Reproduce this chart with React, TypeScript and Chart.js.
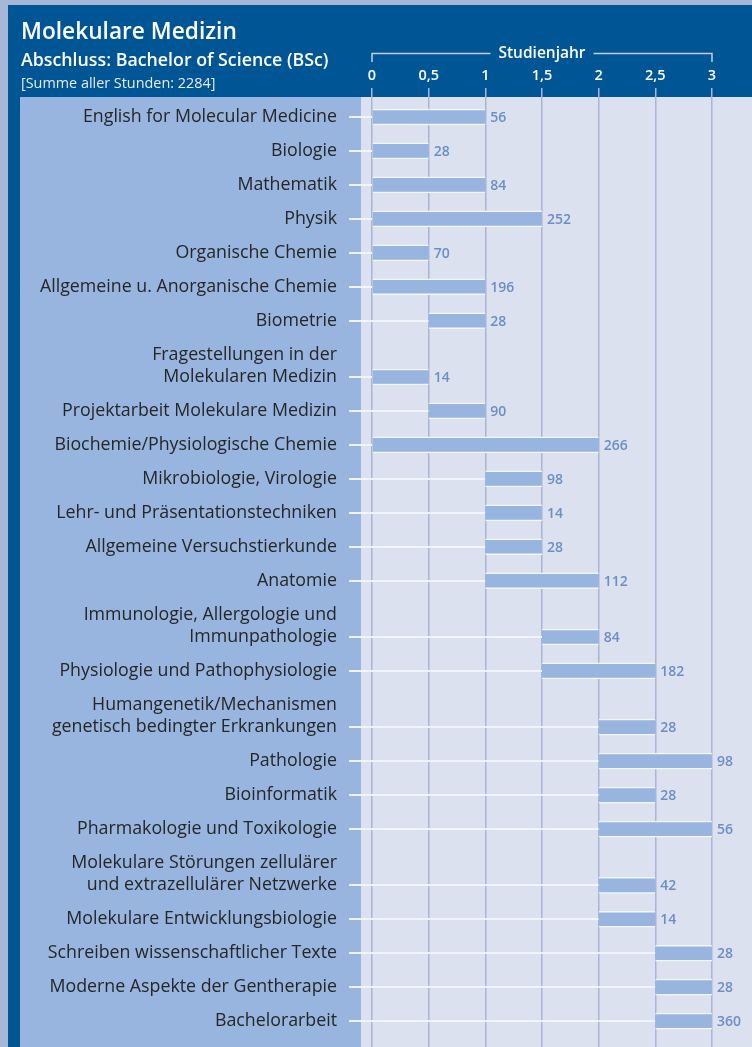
import React, { useEffect, useRef } from 'react';
import { Chart, registerables } from 'chart.js';

Chart.register(...registerables);

const title = 'Molekulare Medizin';
const subtitle = 'Abschluss: Bachelor of Science (BSc)';
const note = '[Summe aller Stunden: 2284]';
const axisTitle = 'Studienjahr';

const categories: string[][] = [
  ['English for Molecular Medicine'],
  ['Biologie'],
  ['Mathematik'],
  ['Physik'],
  ['Organische Chemie'],
  ['Allgemeine u. Anorganische Chemie'],
  ['Biometrie'],
  ['Fragestellungen in der', 'Molekularen Medizin'],
  ['Projektarbeit Molekulare Medizin'],
  ['Biochemie/Physiologische Chemie'],
  ['Mikrobiologie, Virologie'],
  ['Lehr- und Präsentationstechniken'],
  ['Allgemeine Versuchstierkunde'],
  ['Anatomie'],
  ['Immunologie, Allergologie und', 'Immunpathologie'],
  ['Physiologie und Pathophysiologie'],
  ['Humangenetik/Mechanismen', 'genetisch bedingter Erkrankungen'],
  ['Pathologie'],
  ['Bioinformatik'],
  ['Pharmakologie und Toxikologie'],
  ['Molekulare Störungen zellulärer', 'und extrazellulärer Netzwerke'],
  ['Molekulare Entwicklungsbiologie'],
  ['Schreiben wissenschaftlicher Texte'],
  ['Moderne Aspekte der Gentherapie'],
  ['Bachelorarbeit'],
];

const startYear: number[] = [0, 0, 0, 0, 0, 0, 0.5, 0, 0.5, 0, 1, 1, 1, 1, 1.5, 1.5, 2, 2, 2, 2, 2, 2, 2.5, 2.5, 2.5];
const endYear: number[] = [1, 0.5, 1, 1.5, 0.5, 1, 1, 0.5, 1, 2, 1.5, 1.5, 1.5, 2, 2, 2.5, 2.5, 3, 2.5, 3, 2.5, 2.5, 3, 3, 3];
const hours: number[] = [56, 28, 84, 252, 70, 196, 28, 14, 90, 266, 98, 14, 28, 112, 84, 182, 28, 98, 28, 56, 42, 14, 28, 28, 360];
const xTicks: number[] = [0, 0.5, 1, 1.5, 2, 2.5, 3];

const EXTRA_LINE = 0.657;

const FONT = '"Open Sans", "Noto Sans", sans-serif';

export default function App() {
  const ref = useRef<HTMLCanvasElement | null>(null);

  useEffect(() => {
    if (!ref.current) return;
    let acc = 0;
    const rowPos = categories.map((lines, i) => {
      acc += (lines.length - 1) * EXTRA_LINE;
      return i + acc;
    });

    const decor = {
      id: 'decor',
      beforeDraw(chart: any) {
        const ctx = chart.ctx;
        const area = chart.chartArea;
        const W = chart.width;
        const H = chart.height;
        ctx.save();
        ctx.fillStyle = '#a7b7d7';
        ctx.fillRect(0, 0, W, H);
        ctx.fillStyle = '#005594';
        ctx.fillRect(8, 5, W - 8, H - 5);
        ctx.fillStyle = '#97b5df';
        ctx.fillRect(20, area.top, area.left - 20, H - area.top);
        ctx.fillStyle = '#dbe1ee';
        ctx.fillRect(area.left, area.top, area.right - area.left, H - area.top);

        ctx.fillStyle = '#ffffff';
        ctx.textAlign = 'left';
        ctx.textBaseline = 'alphabetic';
        ctx.font = `600 22.7px ${FONT}`;
        ctx.fillText(title, 21, 39);
        ctx.font = `600 17.8px ${FONT}`;
        ctx.fillText(subtitle, 21, 66);
        ctx.font = `14.4px ${FONT}`;
        ctx.fillStyle = '#e6ecf5';
        ctx.fillText(note, 21, 88);

        // Studienjahr bracket
        const xs = chart.scales.x;
        const x0 = xs.getPixelForValue(xTicks[0]);
        const x1 = xs.getPixelForValue(xTicks[xTicks.length - 1]);
        const xm = (x0 + x1) / 2;
        ctx.font = `600 15.5px ${FONT}`;
        const tw = ctx.measureText(axisTitle).width;
        ctx.strokeStyle = '#c3cfe6';
        ctx.lineWidth = 1.5;
        ctx.beginPath();
        ctx.moveTo(x0, 62);
        ctx.lineTo(x0, 53.5);
        ctx.lineTo(xm - tw / 2 - 8, 53.5);
        ctx.moveTo(xm + tw / 2 + 8, 53.5);
        ctx.lineTo(x1, 53.5);
        ctx.lineTo(x1, 62);
        ctx.stroke();
        ctx.fillStyle = '#ffffff';
        ctx.textAlign = 'center';
        ctx.textBaseline = 'middle';
        ctx.fillText(axisTitle, xm, 54);
        ctx.restore();
      },
      beforeDatasetsDraw(chart: any) {
        const ctx = chart.ctx;
        const xs = chart.scales.x;
        const ys = chart.scales.y;
        ctx.save();
        ctx.strokeStyle = '#f1f4fa';
        ctx.lineWidth = 2;
        categories.forEach((_, i) => {
          const y = Math.round(ys.getPixelForValue(rowPos[i]));
          ctx.beginPath();
          ctx.moveTo(349, y);
          ctx.lineTo(xs.getPixelForValue(startYear[i]), y);
          ctx.stroke();
        });
        ctx.restore();
      },
      afterDatasetsDraw(chart: any) {
        const ctx = chart.ctx;
        const xs = chart.scales.x;
        const ys = chart.scales.y;
        ctx.save();
        ctx.textBaseline = 'middle';
        categories.forEach((lines, i) => {
          const y = ys.getPixelForValue(rowPos[i]);
          ctx.textAlign = 'left';
          ctx.fillStyle = '#6c8ec4';
          ctx.font = `600 14px ${FONT}`;
          ctx.fillText(String(hours[i]), xs.getPixelForValue(endYear[i]) + 5, y + 1);
          ctx.textAlign = 'right';
          ctx.fillStyle = '#262626';
          ctx.font = `17.8px ${FONT}`;
          const n = lines.length;
          lines.forEach((line, j) => {
            ctx.fillText(line, 337, y - (n - 1 - j) * 22.3);
          });
        });
        ctx.restore();
      },
    };

    const chart = new Chart(ref.current, {
      type: 'bar',
      data: {
        datasets: [
          {
            data: categories.map((_, i) => ({ x: [startYear[i], endYear[i]], y: rowPos[i] })) as any,
            backgroundColor: '#97b5df',
            borderColor: '#f3f6fb',
            borderWidth: { top: 1.5, bottom: 1.5, left: 0, right: 0 } as any,
            borderSkipped: false,
            barThickness: 16,
          },
        ],
      },
      options: {
        indexAxis: 'y',
        responsive: false,
        animation: false,
        layout: { padding: { left: 361, right: 0, top: 0, bottom: 0 } },
        scales: {
          x: {
            type: 'linear',
            position: 'top',
            min: -0.0971,
            max: 3.353,
            afterBuildTicks: (s: any) => {
              s.ticks = xTicks.map((v) => ({ value: v }));
            },
            afterFit: (s: any) => {
              s.height = 97;
            },
            grid: { color: '#a9b4d7', lineWidth: 1.5, tickLength: 9, drawTicks: true, tickColor: '#a9b4d7' },
            border: { display: false },
            ticks: {
              color: '#ffffff',
              font: { family: FONT, size: 14.5, weight: '600' },
              padding: 3,
              maxRotation: 0,
              autoSkip: false,
              callback: (v: any) => String(v).replace('.', ','),
            },
          },
          y: {
            type: 'linear',
            reverse: true,
            offset: false,
            min: -0.589,
            max: 27.39,
            display: false,
          },
        },
        plugins: { legend: { display: false }, tooltip: { enabled: false } },
      },
      plugins: [decor],
    } as any);
    return () => chart.destroy();
  }, []);

  return (
    <div style={{ position: 'absolute', left: 0, top: 0, width: 752, height: 1047 }}>
      <canvas ref={ref} width={752} height={1047} />
    </div>
  );
}
